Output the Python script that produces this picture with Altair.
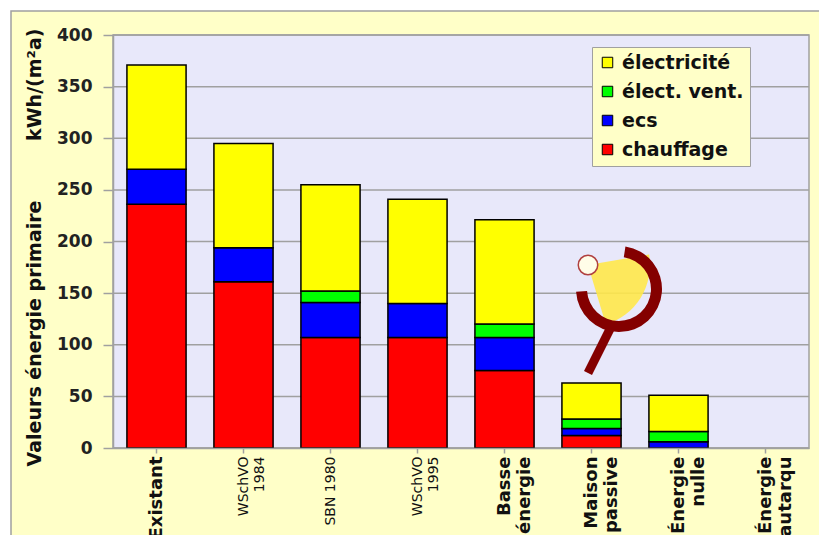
import json
import altair as alt
import pandas as pd

# ---- data ----
categories = ["Existant", "WSchVO 1984", "SBN 1980", "WSchVO 1995",
              "Basse énergie", "Maison passive", "Énergie nulle", "Énergie autarqu"]
label_lines = [["Existant"], ["WSchVO", "1984"], ["SBN 1980"], ["WSchVO", "1995"],
               ["Basse\u00a0\u00a0\u00a0\u00a0", "énergie"], ["Maison", "passive"],
               ["Énergie", "nulle\u00a0\u00a0\u00a0\u00a0\u00a0"], ["Énergie", "autarqu"]]
small_labels = ["WSchVO 1984", "SBN 1980", "WSchVO 1995"]

chauffage   = [236, 161, 107, 107, 75, 12, 0, 0]
ecs         = [34, 33, 34, 33, 32, 7, 6, 0]
elect_vent  = [0, 0, 11, 0, 13, 9, 10, 0]
electricite = [101, 101, 103, 101, 101, 35, 35, 0]

series = ["électricité", "élect. vent.", "ecs", "chauffage"]
colors = ["#FFFF00", "#00FF00", "#0000FF", "#FF0000"]
y_ticks = [0, 50, 100, 150, 200, 250, 300, 350, 400]

# ---- long table ----
stack_series = [("chauffage", chauffage), ("ecs", ecs),
                ("élect. vent.", elect_vent), ("électricité", electricite)]
rows = []
for i, c in enumerate(categories):
    for k, (s, vals) in enumerate(stack_series):
        if vals[i] > 0:
            rows.append({"cat": c, "series": s, "value": vals[i], "order": k})
df = pd.DataFrame(rows)

W, H = 696, 413
BG = "#FFFFC8"
PLOT = "#E8E8FA"
GRAY = "#A0A0A0"
DARKRED = "#840000"
FONT = "DejaVu Sans"

yscale = alt.Scale(domain=[0, 400], nice=False)
one = pd.DataFrame({"k": [0]})

title_text = "Valeurs énergie primaire" + "\u00a0" * 9 + "kWh/(m²a)"
y_axis = alt.Axis(values=y_ticks, grid=False, title=title_text, titleFont=FONT,
                  titleFontSize=19, titleFontWeight="bold", titleColor="#111111",
                  titleX=-79, titleY=212, titleBaseline="middle",
                  labelFont=FONT, labelFontSize=17, labelFontWeight="bold",
                  labelColor="#222222", labelPadding=11, tickSize=10, tickColor=GRAY,
                  tickWidth=1.5, domainColor=GRAY, domainWidth=1.5, zindex=1)

frame = alt.Chart(one).mark_rect(fill=BG, stroke=GRAY, strokeWidth=1.5).encode(
    x=alt.value(-102), x2=alt.value(W + 60), y=alt.value(-24), y2=alt.value(H + 200))

plotbg = alt.Chart(one).mark_rect(fill=PLOT, stroke=GRAY, strokeWidth=1.5).encode(
    x=alt.value(0), x2=alt.value(W), y=alt.value(0), y2=alt.value(H))

grid = alt.Chart(pd.DataFrame({"t": y_ticks})).mark_rule(color=GRAY, strokeWidth=1.5).encode(
    y=alt.Y("t:Q", scale=yscale, axis=y_axis))

# decorative logo (lamp beam + phi shape)
beam = alt.Chart(one).mark_arc(fill="#FFE84A", opacity=0.9).encode(
    x=alt.value(475), y=alt.value(230), theta=alt.value(1.4), theta2=alt.value(2.85),
    radius=alt.value(62))
cup = alt.Chart(one).mark_arc(fill=DARKRED).encode(
    x=alt.value(506), y=alt.value(254), theta=alt.value(0.15), theta2=alt.value(4.65),
    radius=alt.value(43), radius2=alt.value(32))
stem = alt.Chart(one).mark_rule(color=DARKRED, strokeWidth=9).encode(
    x=alt.value(499), y=alt.value(290), x2=alt.value(475), y2=alt.value(338))
lamp = alt.Chart(one).mark_point(shape="circle", filled=True, fill="#FFFDE8", stroke="#B04040",
                                 strokeWidth=1.5, size=380, opacity=1).encode(
    x=alt.value(475), y=alt.value(230))

label_expr = "{}[indexof({}, datum.value)]".format(
    json.dumps(label_lines, ensure_ascii=False), json.dumps(categories, ensure_ascii=False))
small_test = "indexof({}, datum.value) >= 0".format(json.dumps(small_labels, ensure_ascii=False))

bars = alt.Chart(df).mark_bar(stroke="black", strokeWidth=1.5).encode(
    x=alt.X("cat:N", sort=categories,
            scale=alt.Scale(domain=categories, paddingInner=0.32, paddingOuter=0.16),
            axis=alt.Axis(title=None, labelAngle=270, labelAlign="right", labelBaseline="middle",
                          labelExpr=label_expr, labelPadding=3, tickSize=5, tickColor=GRAY,
                          tickWidth=1.5, domainColor=GRAY, domainWidth=1.5, labelFont=FONT,
                          labelColor="#111111", labelLimit=400, labelOverlap=False,
                          labelFontSize={"condition": {"test": small_test, "value": 14}, "value": 18},
                          labelFontWeight={"condition": {"test": small_test, "value": "normal"}, "value": "bold"},
                          zindex=1)),
    y=alt.Y("value:Q", stack="zero", scale=yscale, axis=y_axis),
    color=alt.Color("series:N", scale=alt.Scale(domain=series, range=colors),
                    legend=alt.Legend(title=None, orient="none", legendX=479, legendY=12,
                                      fillColor=BG, strokeColor=GRAY, padding=6,
                                      symbolType="square", symbolSize=110,
                                      symbolStrokeColor="black", symbolStrokeWidth=1,
                                      labelFont=FONT, labelFontSize=19, labelFontWeight="bold",
                                      labelColor="#111111", labelOffset=5, rowPadding=9,
                                      labelLimit=300)),
    order=alt.Order("order:Q", sort="ascending"),
)

chart = alt.layer(frame, plotbg, grid, beam, cup, stem, lamp, bars).properties(
    width=W, height=H,
    padding={"left": 113, "top": 35, "right": 10, "bottom": 87},
    autosize=alt.AutoSizeParams(type="none"),
    background="white",
).configure_view(stroke=None)

chart.save("out.html", embed_options={"renderer": "svg", "actions": False})
